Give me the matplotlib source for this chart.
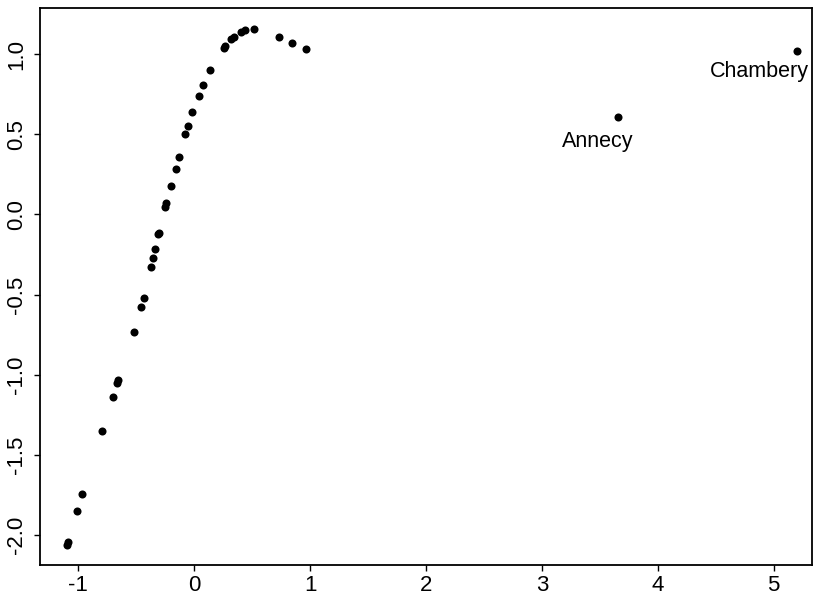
import matplotlib
matplotlib.use("Agg")
import matplotlib.pyplot as plt

plt.rcParams['font.family'] = ['Liberation Sans', 'DejaVu Sans']
plt.rcParams['axes.unicode_minus'] = False

# main curve of points
xs = [-1.092, -1.101, -1.011, -0.966, -0.799, -0.704, -0.664, -0.653, -0.520,
      -0.457, -0.437, -0.371, -0.356, -0.339, -0.308, -0.302, -0.250, -0.241,
      -0.201, -0.161, -0.132, -0.078, -0.054, -0.015, 0.043, 0.078, 0.138,
      0.256, 0.270, 0.319, 0.342, 0.408, 0.437, 0.515, 0.730, 0.845, 0.963]
ys = [-2.046, -2.063, -1.854, -1.744, -1.354, -1.139, -1.056, -1.036, -0.733,
      -0.575, -0.522, -0.327, -0.275, -0.213, -0.123, -0.114, 0.046, 0.071,
      0.179, 0.286, 0.358, 0.502, 0.550, 0.638, 0.742, 0.806, 0.904,
      1.042, 1.054, 1.098, 1.111, 1.139, 1.150, 1.156, 1.108, 1.071, 1.033]

# labelled outliers
names = ["Annecy", "Chambery"]
name_x = [3.66, 5.198]
name_y = [0.606, 1.019]

fig = plt.figure(figsize=(8.23, 5.96), dpi=100)
ax = fig.add_axes([40 / 823, 31 / 596, 772 / 823, 557 / 596])

ax.plot(xs, ys, 'o', color='black', ms=5.8, mec='none')
ax.plot(name_x, name_y, 'o', color='black', ms=5.8, mec='none')
# labels sit below-left of their points
offsets = [(-0.18, -0.15), (-0.32, -0.125)]
for n, x, y, (dx, dy) in zip(names, name_x, name_y, offsets):
    ax.text(x + dx, y + dy, n, fontsize=15.5, ha='center', va='center')

ax.set_xlim(-1.33, 5.33)
ax.set_ylim(-2.19, 1.29)
ax.set_xticks([-1, 0, 1, 2, 3, 4, 5])
ax.set_yticks([-2.0, -1.5, -1.0, -0.5, 0.0, 0.5, 1.0])
ax.set_yticklabels(["-2.0", "-1.5", "-1.0", "-0.5", "0.0", "0.5", "1.0"],
                   rotation=90, va='center')
ax.tick_params(direction='out', length=4, width=1, labelsize=16)
ax.tick_params(axis='x', pad=3.5)
ax.tick_params(axis='y', pad=5)
for s in ax.spines.values():
    s.set_linewidth(1.3)

fig.savefig("out.png", dpi=100)
